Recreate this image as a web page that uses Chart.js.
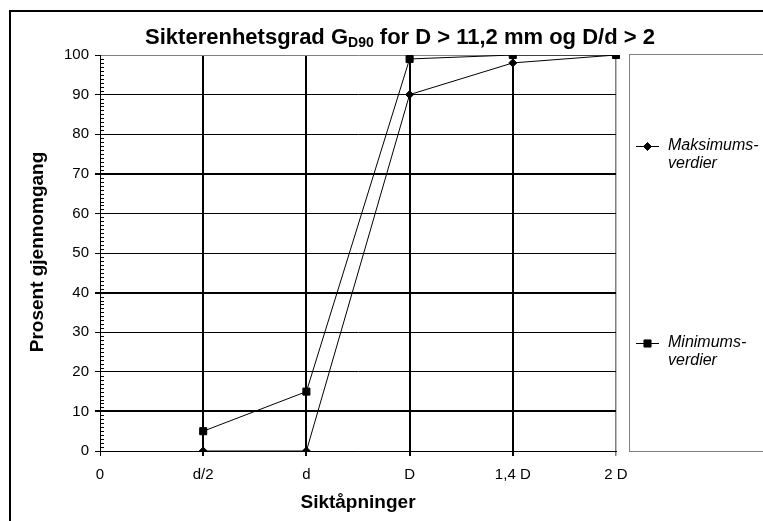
<!DOCTYPE html>
<html>
<head>
<meta charset="utf-8">
<script src="https://cdn.jsdelivr.net/npm/chart.js@4"></script>
<style>
  body { margin: 0; background: #fff; }
</style>
</head>
<body>
<canvas id="chart" width="763" height="521"></canvas>
<script>
// data
const siktLabels = ['0', 'd/2', 'd', 'D', '1,4 D', '2 D'];
const maksVerdier = [null, 0, 0, 90, 98, 100];
const minVerdier = [null, 5, 15, 99, 100, 100];
const thickLines = [10, 40, 70];

const FONT = "Arial, 'Liberation Sans', sans-serif";

// frame, title with subscript, axis titles, minor ticks and the side legend
const decorations = {
  id: 'decorations',
  afterDraw(chart) {
    const ctx = chart.ctx;
    const y = chart.scales.y;
    ctx.save();

    // outer frame
    ctx.strokeStyle = '#000';
    ctx.lineWidth = 2;
    ctx.strokeRect(10, 11, 800, 600);

    // minor ticks on the value axis
    ctx.lineWidth = 1;
    const left = chart.chartArea.left;
    for (let v = 0; v <= 100; v++) {
      if (v % 10 === 0) continue;
      const py = Math.round(y.getPixelForValue(v)) + 0.5;
      ctx.beginPath();
      ctx.moveTo(left, py);
      ctx.lineTo(left + 4, py);
      ctx.stroke();
    }

    // title
    ctx.fillStyle = '#000';
    ctx.textBaseline = 'alphabetic';
    const t1 = 'Sikterenhetsgrad G', sub = 'D90', t2 = ' for D > 11,2 mm og D/d > 2';
    ctx.font = 'bold 22px ' + FONT;
    const w1 = ctx.measureText(t1).width, w2 = ctx.measureText(t2).width;
    ctx.font = 'bold 14px ' + FONT;
    const ws = ctx.measureText(sub).width;
    let tx = 400 - (w1 + ws + w2) / 2;
    ctx.font = 'bold 22px ' + FONT;
    ctx.fillText(t1, tx, 44);
    tx += w1;
    ctx.font = 'bold 14px ' + FONT;
    ctx.fillText(sub, tx, 47);
    tx += ws;
    ctx.font = 'bold 22px ' + FONT;
    ctx.fillText(t2, tx, 44);

    // axis titles
    ctx.font = 'bold 19px ' + FONT;
    ctx.textAlign = 'center';
    ctx.textBaseline = 'middle';
    ctx.fillText('Siktåpninger', 358, 503);
    ctx.save();
    ctx.translate(38, 252);
    ctx.rotate(-Math.PI / 2);
    ctx.fillText('Prosent gjennomgang', 0, 0);
    ctx.restore();

    // legend box
    ctx.strokeStyle = '#808080';
    ctx.lineWidth = 1;
    ctx.strokeRect(629.5, 54.5, 200, 397);

    const entries = [
      { style: 'rectRot', r: 4, y: 146, lines: ['Maksimums-', 'verdier'] },
      { style: 'rect', r: 5, y: 343, lines: ['Minimums-', 'verdier'] }
    ];
    entries.forEach(e => {
      ctx.strokeStyle = '#000';
      ctx.beginPath();
      ctx.moveTo(636, e.y + 0.5);
      ctx.lineTo(659, e.y + 0.5);
      ctx.stroke();
      ctx.fillStyle = '#000';
      Chart.helpers.drawPoint(ctx, { pointStyle: e.style, radius: e.r, borderWidth: 1 }, 647.5, e.y + 0.5);
      ctx.font = 'italic 16px ' + FONT;
      ctx.textAlign = 'left';
      ctx.textBaseline = 'middle';
      e.lines.forEach((s, i) => ctx.fillText(s, 668, e.y + i * 18));
    });

    ctx.restore();
  }
};

new Chart(document.getElementById('chart'), {
  type: 'line',
  data: {
    labels: siktLabels,
    datasets: [
      {
        label: 'Maksimumsverdier',
        data: maksVerdier,
        borderColor: '#000',
        backgroundColor: '#000',
        borderWidth: 1,
        pointStyle: 'rectRot',
        pointRadius: 4,
        pointBorderWidth: 1,
        tension: 0
      },
      {
        label: 'Minimumsverdier',
        data: minVerdier,
        borderColor: '#000',
        backgroundColor: '#000',
        borderWidth: 1,
        pointStyle: 'rect',
        pointRadius: 5,
        pointBorderWidth: 1,
        tension: 0
      }
    ]
  },
  options: {
    responsive: false,
    animation: false,
    layout: { padding: { left: 0, right: 147, top: 55, bottom: 40 } },
    plugins: {
      legend: { display: false },
      title: { display: false },
      tooltip: { enabled: false }
    },
    scales: {
      x: {
        type: 'category',
        offset: false,
        afterFit: s => { s.height = 30; },
        border: { display: true, color: '#000', width: 1 },
        grid: {
          tickLength: 5,
          color: c => (c.index === 5 ? '#808080' : '#000'),
          tickColor: c => (c.index === 5 ? '#808080' : '#000'),
          lineWidth: c => (c.index === 0 ? 1 : c.index === 5 ? 1.5 : 2)
        },
        ticks: {
          color: '#000',
          padding: 10,
          maxRotation: 0,
          autoSkip: false,
          font: { family: FONT, size: 15 }
        }
      },
      y: {
        min: 0,
        max: 100,
        afterFit: s => { s.width = 100; },
        border: { display: true, color: '#000', width: 1 },
        grid: {
          tickLength: 5,
          color: c => (c.tick.value === 100 ? '#808080' : '#000'),
          tickColor: '#000',
          lineWidth: c => (thickLines.includes(c.tick.value) ? 2 : 1)
        },
        ticks: {
          stepSize: 10,
          color: '#000',
          padding: 6,
          font: { family: FONT, size: 15 }
        }
      }
    }
  },
  plugins: [decorations]
});
</script>
</body>
</html>
